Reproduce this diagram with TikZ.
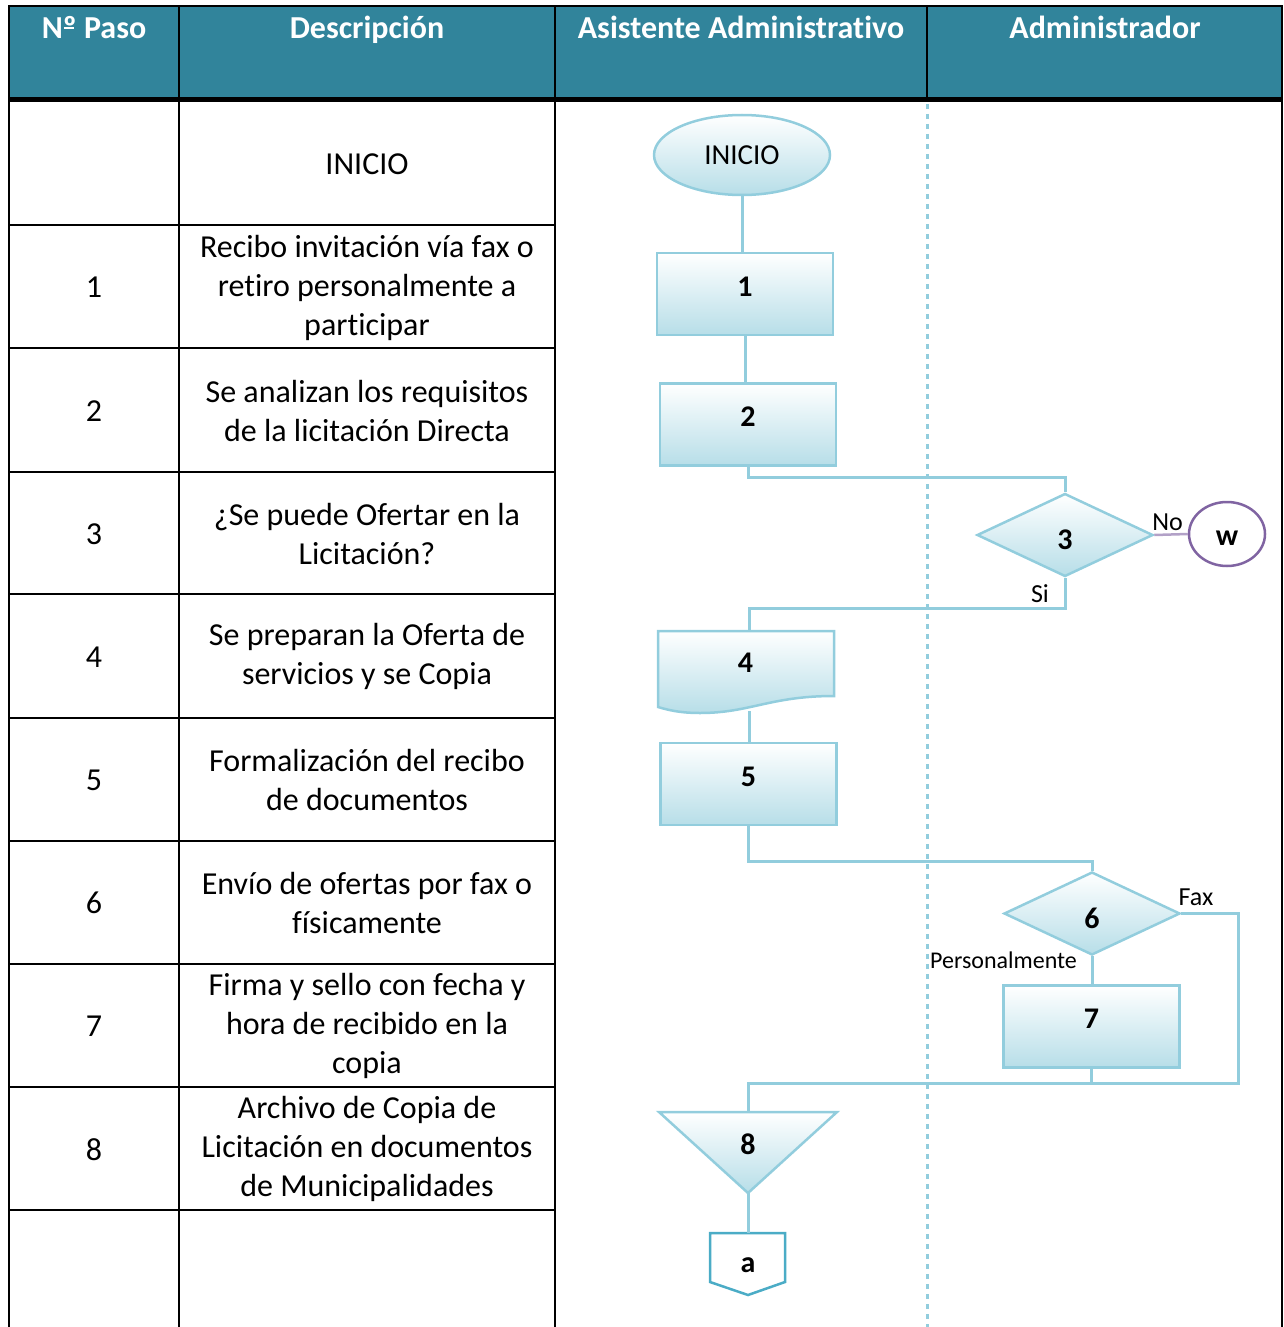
\documentclass[tikz,border=0pt]{standalone}
\usepackage{fontspec}
\setmainfont{Carlito}[Ligatures=NoCommon]
\usetikzlibrary{shapes.geometric,positioning,calc}
\definecolor{headcol}{RGB}{49,132,155}
\definecolor{flowcol}{RGB}{146,205,221}
\definecolor{shadecol}{RGB}{183,222,232}
\definecolor{purpcol}{RGB}{128,100,162}
\definecolor{nocol}{RGB}{178,161,199}
\definecolor{offcol}{RGB}{75,172,198}

\begin{document}
\begin{tikzpicture}[x=1pt,y=-1pt,
  grid/.style={black,line width=2pt},
  head/.style={anchor=base,text=white,font=\fontsize{32}{39}\selectfont\bfseries},
  cell/.style={align=center,font=\fontsize{32}{39}\selectfont},
  flow/.style={flowcol,line width=3pt},
  shp/.style={draw=flowcol,line width=2.5pt,top color=white,bottom color=shadecol},
  numtxt/.style={font=\fontsize{30}{30}\selectfont\bfseries,inner sep=0pt},
  pbox/.style={shp,rectangle,minimum width=176pt,minimum height=82pt,inner sep=0pt,
     text height=22pt,text depth=18pt,numtxt},
  dec/.style={shp,diamond,aspect=2.1,minimum width=176pt,minimum height=83pt,inner sep=0pt,
     text height=29pt,text depth=0pt,numtxt},
  lbl/.style={anchor=base,inner sep=0pt,font=\fontsize{26}{26}\selectfont}]
  \useasboundingbox (0,0) rectangle (1283,1327);
  % header band
  \fill[headcol] (9,6) rectangle (1282,100);
  \node[head] (hpaso) at (94,39) {N\rlap{\hspace{0.03em}\raisebox{0.3em}{\rule{0.33em}{0.06em}}}º Paso};
  \node[head] (hdesc) at (367,39) {Descripción};
  \node[head] (hasis) at (741,39) {Asistente Administrativo};
  \node[head] (hadmi) at (1105,39) {Administrador};
  % table grid
  \draw[grid] (9,1327) -- (9,6) -- (1282,6) -- (1282,1327);
  \foreach \x in {179,555} \draw[grid] (\x,6) -- (\x,1327);
  \draw[grid] (927,6) -- (927,98);
  \draw[black,line width=5pt] (9,100) -- (1282,100);
  \foreach \y in {225,348,472,594,718,841,964,1087,1210} \draw[grid] (9,\y) -- (555,\y);
  \draw[flowcol,line width=3pt,dash pattern=on 5pt off 5pt] (927,104) -- (927,1327);
  % steps
  \node[cell] (txt0) at (367,164.5) {INICIO};
  \foreach \k/\txt in {1/{Recibo invitación vía fax o\\retiro personalmente a\\participar},
     2/{Se analizan los requisitos\\de la licitación Directa},
     3/{¿Se puede Ofertar en la\\Licitación?},
     4/{Se preparan la Oferta de\\servicios y se Copia},
     5/{Formalización del recibo\\de documentos},
     6/{Envío de ofertas por fax o\\físicamente},
     7/{Firma y sello con fecha y\\hora de recibido en la\\copia},
     8/{Archivo de Copia de\\Licitación en documentos\\de Municipalidades}}
  {\node[cell] (num\k) at (94,{103+123.1*(\k+0.5)}) {\k};
   \node[cell] (txt\k) at (367,{103+123.1*(\k+0.5)}) {\txt};}
  % flowchart shapes
  \node[shp,ellipse,minimum width=176pt,minimum height=80pt,inner sep=0pt,
     font=\fontsize{29}{29}\selectfont] (ini) at (742,155) {INICIO};
  \node[pbox] (b1) at (745,294) {1};
  \node[pbox] (b2) at (748,424.5) {2};
  \node[dec] (d3) at (1065,535) {3};
  \node[draw=purpcol,line width=2.5pt,fill=white,ellipse,minimum width=76pt,minimum height=64pt,
     inner sep=0pt,numtxt,text height=22pt,text depth=0pt] (w) at (1227,534) {w};
  \draw[shp] (658,631) -- (834,631) -- (834,696)
     .. controls (770,696) and (750,713) .. (700,713)
     .. controls (680,713) and (668,710) .. (658,707) -- cycle;
  \coordinate (in4) at (749,631);
  \coordinate (out4) at (749,711);
  \node[numtxt] (n4) at (745.5,662.5) {4};
  \node[pbox] (b5) at (748.5,784) {5};
  \node[dec] (d6) at (1092,913.5) {6};
  \node[pbox] (b7) at (1091.5,1026.5) {7};
  \draw[shp] (659,1112) -- (837,1112) -- (748,1193) -- cycle;
  \coordinate (top8) at (748,1112);
  \coordinate (tip8) at (748,1193);
  \node[numtxt] (n8) at (748,1144.5) {8};
  \draw[offcol,line width=2.5pt,fill=white] (710,1233) -- (785,1233) -- (785,1282)
     -- (748,1295) -- (710,1282) -- cycle;
  \coordinate (topa) at (748,1233);
  \node[numtxt] (na) at (748,1265) {a};
  \coordinate (jn) at (748,1083);
  % connectors
  \draw[flow] (ini.south) -- (ini.south |- b1.north);
  \draw[flow] (b1.south) -- (b1.south |- b2.north);
  \draw[flow] (b2.south) -- ++(0,11) -| (d3.north);
  \draw[nocol,line width=2.5pt] (d3.east) -- (w.west);
  \draw[flow] (d3.south) -- ++(0,31) -| (in4);
  \draw[flow] (out4) -- (out4 |- b5.north);
  \draw[flow] (b5.south) -- ++(0,35) -| (d6.north);
  \draw[flow] (d6.south) -- (d6.south |- b7.north);
  \draw[flow] (d6.east) -- ++(57,0) |- (jn) -- (top8);
  \draw[flow] (b7.south) -- (b7.south |- jn);
  \draw[flow] (tip8) -- (topa);
  % branch labels
  \node[lbl] (lno) at (1167.5,530) {No};
  \node[lbl] (lsi) at (1040,602) {Si};
  \node[lbl] (lfax) at (1196,905) {Fax};
  \node[lbl,font=\fontsize{24}{24}\selectfont] (lper) at (1003.5,968) {Personalmente};
\end{tikzpicture}
\end{document}
